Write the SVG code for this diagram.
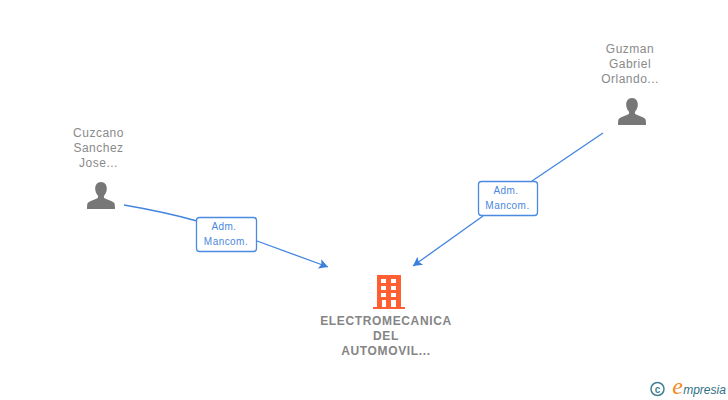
<svg xmlns="http://www.w3.org/2000/svg" width="728" height="400" viewBox="0 0 728 400">
<style>
text{font-family:"Liberation Sans",Arial,sans-serif;text-anchor:middle}
.n{font-size:12px;fill:#8a8a8a;letter-spacing:.5px}
.c{font-size:12px;font-weight:bold;fill:#858585;letter-spacing:.65px}
.l{font-size:10px;fill:#4a88de;letter-spacing:.45px}
.e{fill:none;stroke:#4285e0;stroke-width:1.3}
.b{fill:#fff;stroke:#4a8ae2;stroke-width:1.300}
.p{fill:#777}
.f{fill:#ff5f33}
</style>
<defs>
<marker id="a" markerUnits="userSpaceOnUse" markerWidth="12" markerHeight="12" refX="9" refY="6" orient="auto"><path d="M0 1L9 6L0 11L2 6Z" fill="#3a7fdc"/></marker>
<symbol id="person" viewBox="0 0 30 30" overflow="visible"><path class="p" d="M15 1c3.600 0 5.800 2.900 5.800 6.500 0 2.800-1 5.200-2.500 6.800-.6.700-.6 2.400.3 3 2.800 1.500 6.800 2.300 9.200 4.100 1 .8 1.200 2.500 1.200 6.600H1c0-4.100.2-5.800 1.200-6.600 2.400-1.800 6.400-2.600 9.200-4.100.9-.6.900-2.300.3-3C10.200 12.700 9.200 10.300 9.200 7.500 9.200 3.900 11.400 1 15 1z"/></symbol>
</defs>
<g id="connectors">
<path class="e" d="M124 205Q165 212 197 221" />
<path class="e" d="M257 241L328 267" marker-end="url(#a)"/>
<path class="e" d="M603 133L532 181"/>
<path class="e" d="M483 216L413 266" marker-end="url(#a)"/>
</g>
<g id="edge-label-1"><rect class="b" x="196.500" y="217.500" width="60" height="34" rx="3"/><text class="l" x="224" y="230">Adm.</text><text class="l" x="226" y="245">Mancom.</text></g>
<g id="edge-label-2"><rect class="b" x="478.500" y="181.500" width="59" height="34" rx="3"/><text class="l" x="506" y="194">Adm.</text><text class="l" x="507.500" y="209">Mancom.</text></g>
<g id="node-cuzcano"><text class="n" x="98.500" y="137">Cuzcano</text><text class="n" x="98.500" y="152">Sanchez</text><text class="n" x="98.500" y="167">Jose...</text><use href="#person" x="86" y="181" width="30" height="30"/></g>
<g id="node-guzman"><text class="n" x="630" y="53">Guzman</text><text class="n" x="630" y="68">Gabriel</text><text class="n" x="630" y="83">Orlando...</text><use href="#person" x="617" y="97" width="30" height="30"/></g>
<g id="node-company">
<path class="f" fill-rule="evenodd" d="M377 275H401V307H405V309H373V307H377ZM381 279v4h5v-4ZM391 279v4h5v-4ZM381 286v4h5v-4ZM391 286v4h5v-4ZM381 293v4h5v-4ZM391 293v4h5v-4ZM382 300v7h4v-7ZM391 300v7h5v-7Z"/>
<text class="c" x="386" y="325">ELECTROMECANICA</text><text class="c" x="386" y="340">DEL</text><text class="c" x="386" y="355">AUTOMOVIL...</text>
</g>
<g id="watermark">
<circle cx="657.500" cy="389" r="6.500" fill="none" stroke="#3f7f92" stroke-width="1.500"/>
<text x="657.500" y="392.500" style="font-size:10px;font-weight:bold;fill:#3f7f92">c</text>
<text x="677.500" y="394" style="font-family:'Liberation Serif',serif;font-size:24px;font-style:italic;fill:#f08a1d">e</text>
<text x="704.500" y="394" style="font-size:12px;font-style:italic;fill:#2f6f85">mpresia</text>
</g>
</svg>
